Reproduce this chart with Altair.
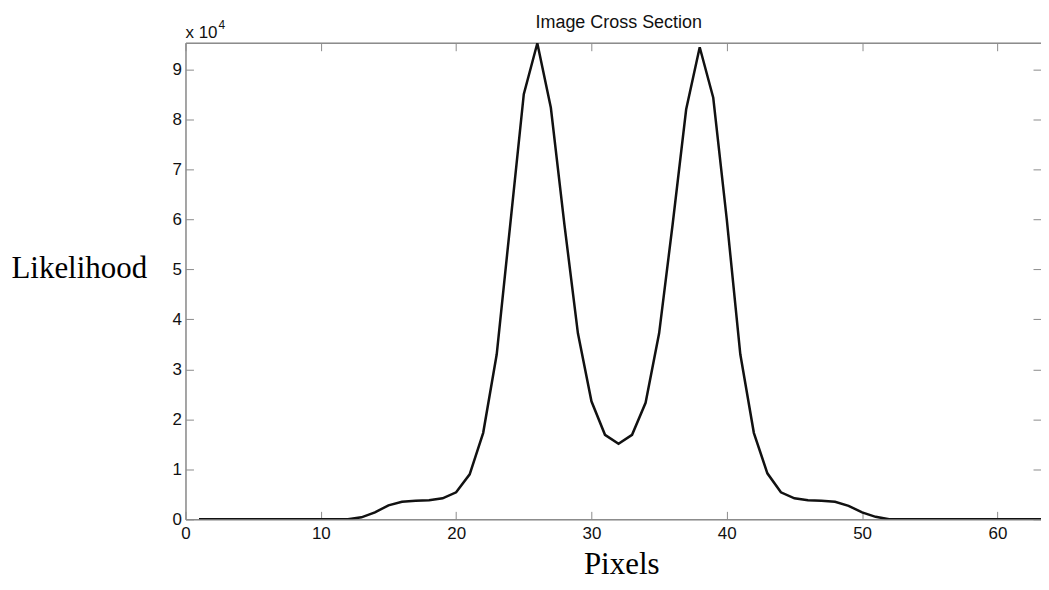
import altair as alt
import pandas as pd

# ---- data ----
pixels = list(range(1, 65))
likelihood = (
    [0] * 12
    + [400, 1400, 2800, 3500, 3700, 3800, 4200, 5400, 9000, 17300, 33000, 59000,
       85000, 95200, 82300, 59000, 37200, 23600, 16900, 15100, 16900, 23300,
       37200, 59000, 82000, 94400, 84300, 60000, 33000, 17300, 9200, 5400,
       4200, 3800, 3700, 3500, 2700, 1400, 500]
    + [0] * 13
)
x_ticks = [0, 10, 20, 30, 40, 50, 60]
y_ticks = [0, 10000, 20000, 30000, 40000, 50000, 60000, 70000, 80000, 90000]
x_domain = [0, 63.22]
y_domain = [0, 95300]

df = pd.DataFrame({"pixel": pixels, "likelihood": likelihood})
ann = pd.DataFrame({"x": [0], "y": [y_domain[1]], "t": ["x 10"]})
sup = pd.DataFrame({"x": [0], "y": [y_domain[1]], "t": ["4"]})

W, H = 858, 478
GRAY = "#8c8c8c"
SANS = "Liberation Sans"
SERIF = "Liberation Serif"

xs = alt.Scale(domain=x_domain, nice=False, zero=False)
ys = alt.Scale(domain=y_domain, nice=False)

base = alt.Chart(df)

main = base.mark_line(color="#111111", strokeWidth=2.5, clip=True).encode(
    x=alt.X("pixel:Q", scale=xs, axis=alt.Axis(
        orient="bottom", values=x_ticks, tickSize=0, labelPadding=6,
        domainColor=GRAY, domainWidth=1.5, labelFont=SANS, labelFontSize=17,
        labelColor="#111111", labelFlush=False, grid=False,
        title="Pixels", titleFont=SERIF, titleFontSize=31, titleFontWeight="normal",
        titleColor="#000000", titleBaseline="alphabetic", titleAlign="center",
        titleX=437, titleY=54)),
    y=alt.Y("likelihood:Q", scale=ys, axis=alt.Axis(
        orient="left", values=y_ticks, labelExpr="datum.value / 10000",
        tickSize=0, labelPadding=4, domainColor=GRAY, domainWidth=1.5,
        labelFont=SANS, labelFontSize=17, labelColor="#111111", labelFlush=False,
        grid=False, title="Likelihood", titleFont=SERIF, titleFontSize=31,
        titleFontWeight="normal", titleColor="#000000", titleAngle=0,
        titleAlign="center", titleBaseline="alphabetic", titleX=-107, titleY=235)),
)

# inward ticks at bottom / left
ticks_a = base.mark_line(strokeOpacity=0).encode(
    x=alt.X("pixel:Q", scale=xs, axis=alt.Axis(
        orient="top", offset=-H, values=x_ticks, labels=False, domain=False,
        tickSize=8, tickColor=GRAY, grid=False, title=None)),
    y=alt.Y("likelihood:Q", scale=ys, axis=alt.Axis(
        orient="right", offset=-W, values=y_ticks, labels=False, domain=False,
        tickSize=8, tickColor=GRAY, grid=False, title=None)),
)

# top border with inward ticks (carries the chart title), right-edge inward ticks
ticks_b = base.mark_line(strokeOpacity=0).encode(
    x=alt.X("pixel:Q", scale=xs, axis=alt.Axis(
        orient="bottom", offset=-H, values=x_ticks, labels=False, domain=True,
        domainColor=GRAY, domainWidth=1.5, tickSize=8, tickColor=GRAY,
        grid=False, title="Image Cross Section", titleFont=SANS, titleFontSize=18,
        titleFontWeight="normal", titleColor="#111111", titleAlign="center",
        titleBaseline="alphabetic", titleX=434, titleY=-15)),
    y=alt.Y("likelihood:Q", scale=ys, axis=alt.Axis(
        orient="left", offset=-W, values=y_ticks, labels=False, domain=False,
        tickSize=8, tickColor=GRAY, grid=False, title=None)),
)

text1 = alt.Chart(ann).mark_text(
    align="left", baseline="alphabetic", dy=-5, font=SANS, fontSize=17, color="#111111"
).encode(
    x=alt.X("x:Q", scale=xs, axis=None),
    y=alt.Y("y:Q", scale=ys, axis=None),
    text="t:N",
)
text2 = alt.Chart(sup).mark_text(
    align="left", baseline="alphabetic", dx=33, dy=-14, font=SANS, fontSize=12, color="#111111"
).encode(
    x=alt.X("x:Q", scale=xs, axis=None),
    y=alt.Y("y:Q", scale=ys, axis=None),
    text="t:N",
)

chart = (
    alt.layer(main, ticks_a, ticks_b, text1, text2)
    .resolve_axis(x="independent", y="independent")
    .properties(
        width=W, height=H,
        autosize=alt.AutoSizeParams(type="none"),
        padding={"left": 178, "top": 34, "right": 0, "bottom": 60},
    )
    .configure_view(stroke=None)
    .configure(background="white")
)

chart.save("out.html", embed_options={"renderer": "svg", "actions": False})
